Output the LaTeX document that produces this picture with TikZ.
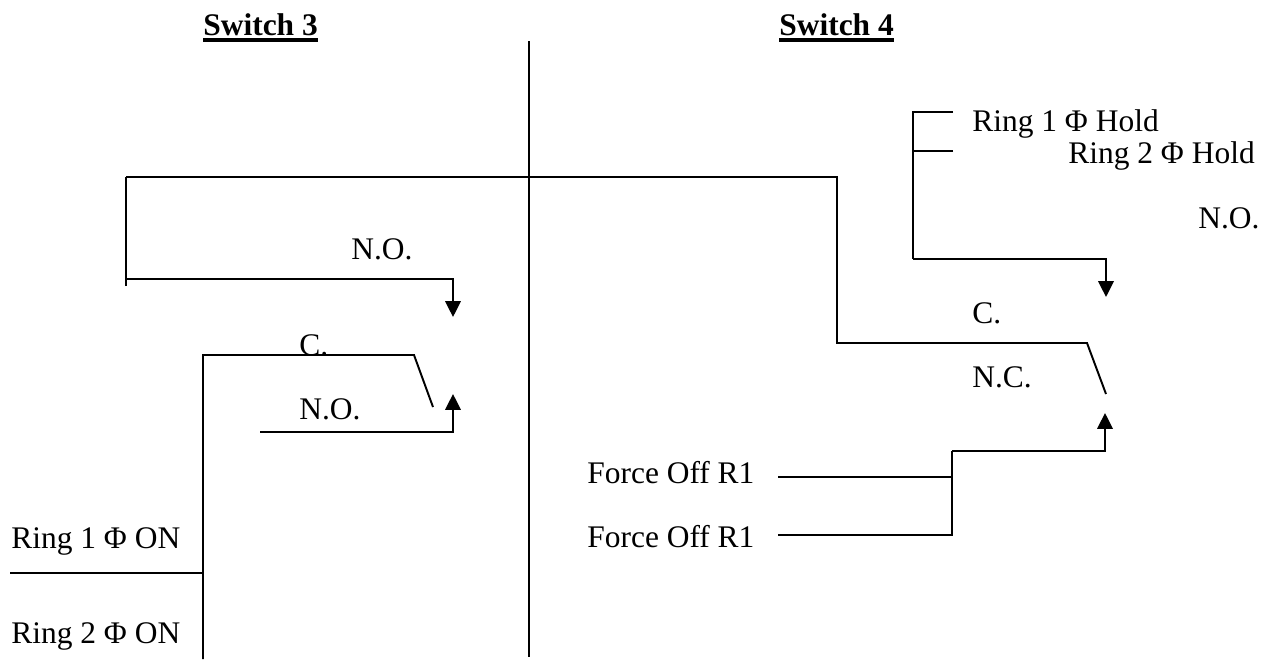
\documentclass[tikz,border=0pt]{standalone}
\usepackage{fontspec}
\setmainfont{Liberation Serif}
\usetikzlibrary{arrows.meta}
\newcommand{\swtitle}[1]{\vtop{\hbox{\textbf{#1}}\vskip 1.7pt\hrule height 2.3pt}}
\tikzset{
    wire/.style={line width=1.1pt},
    tipwire/.style={wire,-{Triangle[length=9pt,width=8.8pt]}},
    lbl/.style={inner sep=0pt,anchor=base west,font=\fontsize{17.9}{21}\selectfont},
}
\begin{document}
\begin{tikzpicture}[x=0.02cm,y=-0.02cm]
    \useasboundingbox (0,0) rectangle (1267,659);
    % titles
    \node[lbl] (title3) at (203,35) {\swtitle{Switch 3}};
    \node[lbl] (title4) at (779,35) {\swtitle{Switch 4}};
    % divider
    \coordinate (divtop) at (529,41);
    \coordinate (divbot) at (529,657);
    \draw[wire] (divtop) -- (divbot);
    % switch 3
    \node[lbl] (no3a) at (351,259) {N.O.};
    \node[lbl] (c3) at (299,355) {C.};
    \node[lbl] (no3b) at (299,419) {N.O.};
    \coordinate (cross) at (126,177);
    \coordinate (crosstail) at (126,286);
    \coordinate (cross2) at (126,279);
    \coordinate (tip3a) at (453,317);
    \coordinate (arm3) at (414,355);
    \coordinate (armend3) at (433,407);
    \coordinate (trunk3) at (203,659);
    \coordinate (tap3) at (203,573);
    \coordinate (on3) at (10,573);
    \coordinate (nostart3) at (260,432);
    \coordinate (tip3b) at (453,394);
    \draw[wire] (crosstail) -- (cross);
    \draw[tipwire] (cross2) -| (tip3a);
    \draw[wire] (trunk3) |- (arm3) -- (armend3);
    \draw[wire] (on3) -- (tap3);
    \draw[tipwire] (nostart3) -| (tip3b);
    \node[lbl] (ring1on) at (11,548) {Ring 1 Φ ON};
    \node[lbl] (ring2on) at (11,643) {Ring 2 Φ ON};
    % switch 4
    \node[lbl] (ring1hold) at (972,131) {Ring 1 Φ Hold};
    \node[lbl] (ring2hold) at (1068,163) {Ring 2 Φ Hold};
    \node[lbl] (no4) at (1198,228) {N.O.};
    \node[lbl] (c4) at (972,323) {C.};
    \node[lbl] (nc4) at (972,387) {N.C.};
    \node[lbl] (off1) at (587,483) {Force Off R1};
    \node[lbl] (off2) at (587,547) {Force Off R1};
    \coordinate (bend4) at (837,177);
    \coordinate (arm4) at (1087,343);
    \coordinate (armend4) at (1106,394);
    \coordinate (hold1) at (953,112);
    \coordinate (hold2) at (953,151);
    \coordinate (holdtap) at (913,151);
    \coordinate (holdbot) at (913,259);
    \coordinate (tip4a) at (1106,297);
    \coordinate (offa) at (778,477);
    \coordinate (offb) at (778,535);
    \coordinate (offtapa) at (952,477);
    \coordinate (offtapb) at (952,535);
    \coordinate (offup) at (952,451);
    \coordinate (tip4b) at (1105,413);
    \draw[wire] (cross) -- (bend4) |- (arm4) -- (armend4);
    \draw[wire] (hold1) -| (holdbot);
    \draw[wire] (hold2) -- (holdtap);
    \draw[tipwire] (holdbot) -| (tip4a);
    \draw[wire] (offa) -- (offtapa);
    \draw[wire] (offb) -- (offtapb) -- (offup);
    \draw[tipwire] (offup) -| (tip4b);
\end{tikzpicture}
\end{document}
